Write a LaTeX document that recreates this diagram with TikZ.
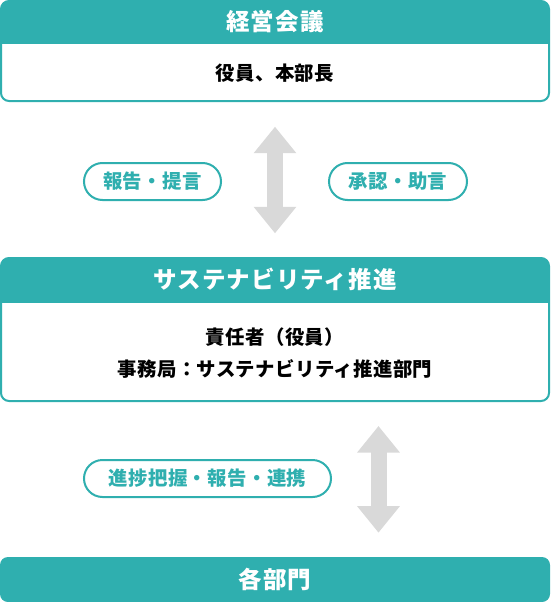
\documentclass[tikz,border=0pt]{standalone}
\usepackage{fontspec}
\setmainfont{Noto Sans CJK JP}[LetterSpace=5]
\newfontfamily\bodyfont{Noto Sans CJK JP}[LetterSpace=2]
\usetikzlibrary{arrows.meta}
\definecolor{teal}{RGB}{47,175,175}
\definecolor{arrowgray}{RGB}{217,217,217}
\tikzset{
  boxframe/.style={draw=teal, line width=2pt, rounded corners=8pt, fill=white, inner sep=0pt},
  headtext/.style={text=white, font=\fontsize{23.5}{26}\selectfont\bfseries, inner sep=0pt, text height=20.68pt, text depth=2.82pt},
  bodytext/.style={text=black, font=\bodyfont\fontsize{19.4}{22}\selectfont\bfseries, inner sep=0pt, text height=17.07pt, text depth=2.33pt},
  pill/.style={draw=teal, line width=2pt, rounded corners=18.5pt, fill=white, text=teal,
    font=\bodyfont\fontsize{19.4}{22}\selectfont\bfseries, inner sep=0pt, minimum height=37pt,
    text height=17.07pt, text depth=2.33pt},
  bigarrow/.style={draw=arrowgray, line width=16pt,
    {Triangle[width=41pt,length=26.5pt]}-{Triangle[width=41pt,length=26.5pt]}}
}
\begin{document}
\begin{tikzpicture}[x=1pt,y=-1pt]
\useasboundingbox (0,0) rectangle (550,602);
% top box
\node[boxframe, minimum width=548pt, minimum height=100pt] (kaigi) at (275,51) {};
\begin{scope}
  \clip[rounded corners=8pt] (1,1) rectangle (549,101);
  \fill[teal] (0,0) rectangle (550,44);
\end{scope}
\node[headtext] (kaigiH) at (275,22) {経営会議};
\node[bodytext] (kaigiB) at (275,73) {役員、本部長};
% middle box
\node[boxframe, minimum width=548pt, minimum height=143pt] (suishin) at (275,329.5) {};
\begin{scope}
  \clip[rounded corners=8pt] (1,258) rectangle (549,401);
  \fill[teal] (0,257) rectangle (550,303);
\end{scope}
\node[headtext] (suishinH) at (275,280) {サステナビリティ推進};
\node[bodytext] (suishinB1) at (275,337) {責任者（役員）};
\node[bodytext] (suishinB2) at (275,369.5) {事務局：サステナビリティ推進部門};
% bottom box
\node[fill=teal, rounded corners=8pt, minimum width=550pt, minimum height=45pt, inner sep=0pt] (bumon) at (275,579.5) {};
\node[headtext] (bumonH) at (275,580) {各部門};
% arrows
\coordinate (a1t) at (275,126.7);
\coordinate (a1b) at (275,233.3);
\draw[bigarrow] (a1t) -- (a1b);
\coordinate (a2t) at (378.5,426);
\coordinate (a2b) at (378.5,532.7);
\draw[bigarrow] (a2t) -- (a2b);
% pills
\node[pill, minimum width=137pt] (p1) at (152.5,181.5) {報告・提言};
\node[pill, minimum width=138pt] (p2) at (398,181.5) {承認・助言};
\node[pill, minimum width=247pt] (p3) at (207.5,478.5) {進捗把握・報告・連携};
\end{tikzpicture}
\end{document}
